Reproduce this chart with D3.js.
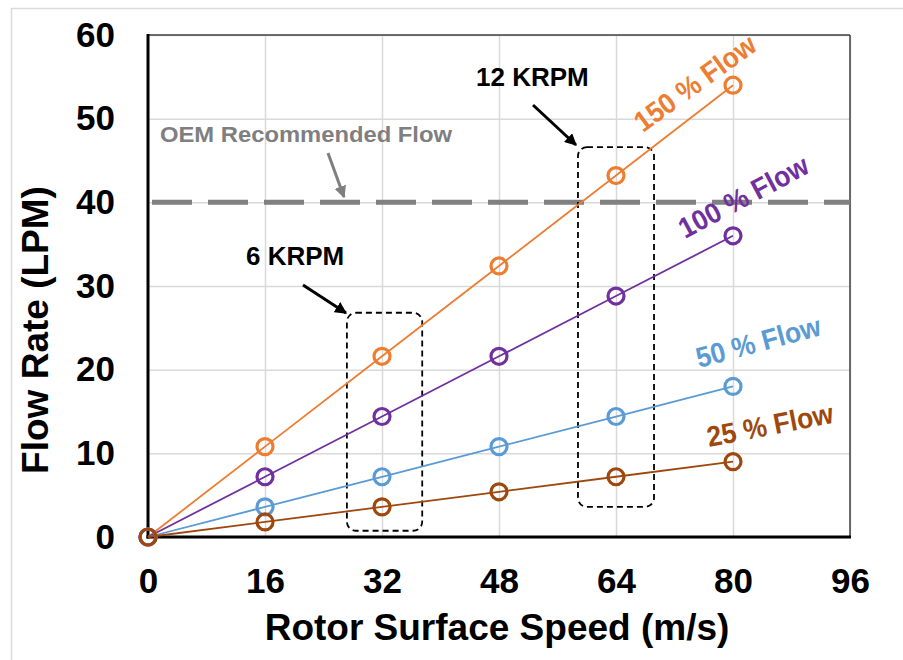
<!DOCTYPE html>
<html><head><meta charset="utf-8">
<script src="https://cdn.jsdelivr.net/npm/d3@7"></script>
<style>
body{margin:0;background:#fff;}
svg{display:block;font-family:Arial,"Liberation Sans",sans-serif;}
</style></head>
<body>
<svg id="chart" width="903" height="660"></svg>
<script>
const speeds = [0, 16, 32, 48, 64, 80];
const flow150 = [0, 10.8, 21.6, 32.4, 43.2, 54];
const flow100 = [0, 7.2, 14.4, 21.6, 28.8, 36];
const flow50 = [0, 3.6, 7.2, 10.8, 14.4, 18];
const flow25 = [0, 1.8, 3.6, 5.4, 7.2, 9];
const seriesNames = ["150 % Flow", "100 % Flow", "50 % Flow", "25 % Flow"];
const seriesColors = ["#ED7D31", "#7030A0", "#5B9BD5", "#9E480E"];
const xTicks = [0, 16, 32, 48, 64, 80, 96];
const yTicks = [0, 10, 20, 30, 40, 50, 60];
const oemFlow = 40;

const svg = d3.select("#chart");
const L = 148, R = 850, T = 35, B = 537;
const x = d3.scaleLinear().domain([0, 96]).range([L, R]);
const y = d3.scaleLinear().domain([0, 60]).range([B, T]);

// outer frame lines
svg.append("line").attr("x1",11).attr("x2",903).attr("y1",8.5).attr("y2",8.5).attr("stroke","#dcdcdc").attr("stroke-width",1.5);
svg.append("line").attr("x1",11.5).attr("x2",11.5).attr("y1",8).attr("y2",660).attr("stroke","#dcdcdc").attr("stroke-width",1.5);

// gridlines
const gx = svg.append("g").attr("transform",`translate(0,${B})`)
  .call(d3.axisBottom(x).tickValues(xTicks).tickSize(-(B-T)).tickFormat(""));
gx.select(".domain").remove();
gx.selectAll("line").attr("stroke","#d9d9d9").attr("stroke-width",1.5);
const gy = svg.append("g").attr("transform",`translate(${L},0)`)
  .call(d3.axisLeft(y).tickValues(yTicks).tickSize(-(R-L)).tickFormat(""));
gy.select(".domain").remove();
gy.selectAll("line").attr("stroke","#d9d9d9").attr("stroke-width",1.5);

// plot border top/right
svg.append("line").attr("x1",L).attr("x2",R).attr("y1",T).attr("y2",T).attr("stroke","#404040").attr("stroke-width",1.5);
svg.append("line").attr("x1",R).attr("x2",R).attr("y1",T).attr("y2",B).attr("stroke","#404040").attr("stroke-width",1.5);

// OEM line
svg.append("line").attr("x1",x(0)+4).attr("x2",R).attr("y1",y(oemFlow)).attr("y2",y(oemFlow))
  .attr("stroke","#808080").attr("stroke-width",5).attr("stroke-dasharray","40,16");
svg.append("text").attr("x",160).attr("y",142).attr("fill","#7f7f7f").attr("font-weight","bold")
  .attr("font-size",22).attr("textLength",292).attr("lengthAdjust","spacingAndGlyphs").text("OEM Recommended Flow");

// arrow markers
const defs = svg.append("defs");
function mk(id,color){
  defs.append("marker").attr("id",id).attr("viewBox","0 0 10 10").attr("refX",9).attr("refY",5)
   .attr("markerWidth",4).attr("markerHeight",4).attr("orient","auto")
   .append("path").attr("d","M0,0 L10,5 L0,10 z").attr("fill",color);
}
mk("arrB","#000"); mk("arrG","#7f7f7f");
svg.append("line").attr("x1",328).attr("y1",153).attr("x2",344).attr("y2",197)
  .attr("stroke","#7f7f7f").attr("stroke-width",3).attr("marker-end","url(#arrG)");

// KRPM boxes
function box(x0,x1,y0,y1){
  svg.append("rect").attr("x",x(x0)).attr("y",y(y1)).attr("width",x(x1)-x(x0)).attr("height",y(y0)-y(y1))
   .attr("rx",9).attr("ry",9).attr("fill","none").attr("stroke","#000").attr("stroke-width",1.8)
   .attr("stroke-dasharray","6,4");
}
box(27.2,37.5,0.75,26.8);
box(58.8,69.2,3.6,46.6);
svg.append("text").attr("x",246).attr("y",265).attr("font-weight","bold").attr("font-size",26).attr("fill","#000").text("6 KRPM");
svg.append("text").attr("x",476).attr("y",86).attr("font-weight","bold").attr("font-size",26).attr("fill","#000").text("12 KRPM");
svg.append("line").attr("x1",303).attr("y1",285).attr("x2",346).attr("y2",313)
  .attr("stroke","#000").attr("stroke-width",3).attr("marker-end","url(#arrB)");
svg.append("line").attr("x1",533).attr("y1",105).attr("x2",576).attr("y2",145)
  .attr("stroke","#000").attr("stroke-width",3).attr("marker-end","url(#arrB)");

// axes (thick left/bottom)
svg.append("line").attr("x1",L).attr("x2",L).attr("y1",T-1).attr("y2",B+1.5).attr("stroke","#000").attr("stroke-width",3);
svg.append("line").attr("x1",L-1.5).attr("x2",R+1).attr("y1",B).attr("y2",B).attr("stroke","#000").attr("stroke-width",3);

const ax = svg.append("g").attr("transform",`translate(0,${B})`)
  .call(d3.axisBottom(x).tickValues(xTicks).tickSize(0).tickPadding(31));
ax.select(".domain").remove();
ax.selectAll("text").attr("font-size",35).attr("font-weight","bold").attr("fill","#000")
  .attr("font-family","Arial,'Liberation Sans',sans-serif");
const ay = svg.append("g").attr("transform",`translate(${L},0)`)
  .call(d3.axisLeft(y).tickValues(yTicks).tickSize(0).tickPadding(33));
ay.select(".domain").remove();
ay.selectAll("text").attr("font-size",35).attr("font-weight","bold").attr("fill","#000")
  .attr("font-family","Arial,'Liberation Sans',sans-serif");

// series
const allSeries = [flow150, flow100, flow50, flow25];
const line = d3.line().x((d,i)=>x(speeds[i])).y(d=>y(d));
allSeries.forEach((s,k)=>{
  svg.append("path").datum(s).attr("d",line).attr("fill","none").attr("stroke",seriesColors[k]).attr("stroke-width",1.8);
});
allSeries.forEach((s,k)=>{
  svg.append("g").selectAll("circle").data(s).join("circle")
    .attr("cx",(d,i)=>x(speeds[i])).attr("cy",d=>y(d)).attr("r",8)
    .attr("fill","none").attr("stroke",seriesColors[k]).attr("stroke-width",3.2);
});

// series labels
const lab = [[643,133,-36],[685,239,-28],[699,368,-15],[709,447,-11]];
seriesNames.forEach((n,k)=>{
  svg.append("text").attr("transform",`translate(${lab[k][0]},${lab[k][1]}) rotate(${lab[k][2]}) scale(1,1.08)`)
    .attr("font-size",26.5).attr("font-weight","bold").attr("fill",seriesColors[k]).text(n);
});

// axis titles
svg.append("text").attr("x",497).attr("y",640).attr("text-anchor","middle")
  .attr("font-size",37).attr("font-weight","bold").attr("fill","#000").text("Rotor Surface Speed (m/s)");
svg.append("text").attr("transform",`translate(48,330) rotate(-90)`).attr("text-anchor","middle")
  .attr("font-size",37).attr("font-weight","bold").attr("fill","#000").text("Flow Rate (LPM)");
</script>
</body></html>
